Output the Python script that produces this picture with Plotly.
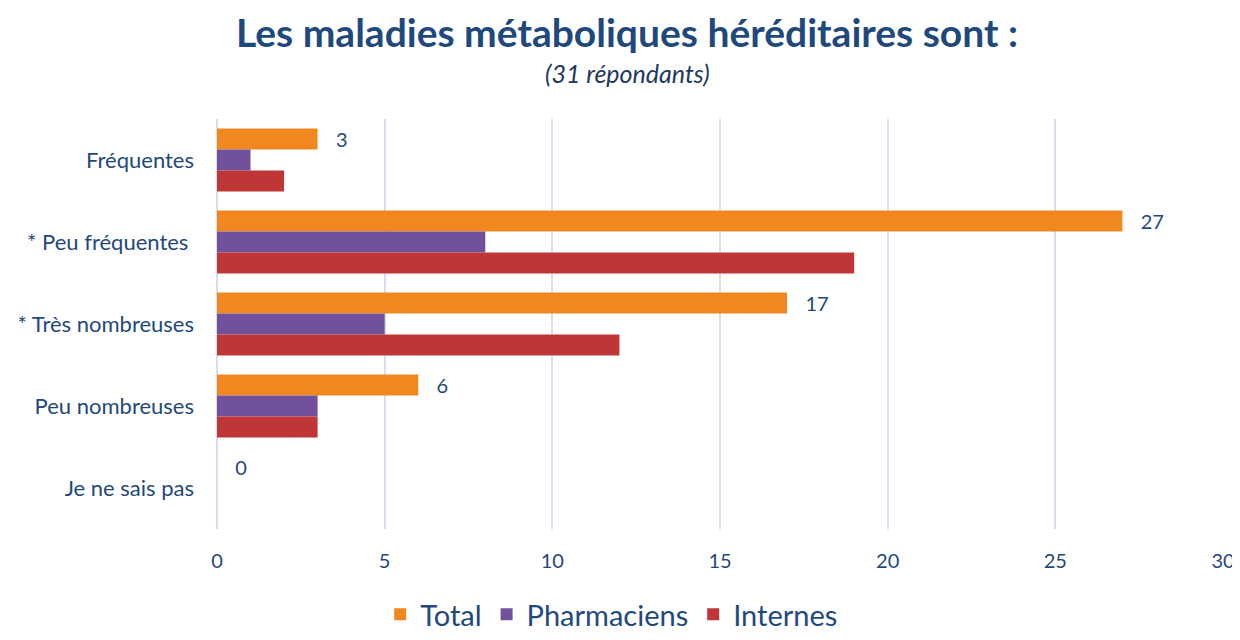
import plotly.graph_objects as go

categories = ["Fréquentes", "* Peu fréquentes ", "* Très nombreuses", "Peu nombreuses", "Je ne sais pas"]
total = [3, 27, 17, 6, 0]
pharmaciens = [1, 8, 5, 3, 0]
internes = [2, 19, 12, 3, 0]
x_ticks = [0, 5, 10, 15, 20, 25, 30]

TXT = "#1F497D"
FONT = "Lato"

fig = go.Figure()
fig.add_trace(go.Bar(
    name="Total", y=categories, x=total, orientation="h",
    marker=dict(color="#F0871F", line=dict(width=0)),
    text=["\u00a0\u00a0\u00a0" + str(v) for v in total],
    textposition="outside", constraintext="none", cliponaxis=False,
    textfont=dict(size=20, color=TXT, family=FONT),
))
fig.add_trace(go.Bar(
    name="Pharmaciens", y=categories, x=pharmaciens, orientation="h",
    marker=dict(color="#71519C", line=dict(width=0)),
))
fig.add_trace(go.Bar(
    name="Internes", y=categories, x=internes, orientation="h",
    marker=dict(color="#BE3636", line=dict(width=0)),
))

fig.update_layout(
    width=1232, height=632,
    margin=dict(l=209, r=17, t=111, b=111),
    paper_bgcolor="white", plot_bgcolor="white",
    barmode="group", bargap=0.23, bargroupgap=0,
    font=dict(family=FONT, color=TXT, size=20),
    showlegend=True,
    legend=dict(orientation="h", xref="container", x=0.49, xanchor="center",
                yref="container", y=-0.035, yanchor="bottom",
                font=dict(size=29, color=TXT, family=FONT),
                itemsizing="constant", traceorder="normal", itemwidth=30),
    annotations=[
        dict(text="<b>Les maladies métaboliques héréditaires sont :</b>",
             xref="paper", yref="paper", x=0.4076, y=1.212, xanchor="center", yanchor="middle",
             showarrow=False, borderpad=0, font=dict(size=39, color=TXT, family=FONT)),
        dict(text="<i>(31 répondants)</i>",
             xref="paper", yref="paper", x=0.4076, y=1.112, xanchor="center", yanchor="middle",
             showarrow=False, font=dict(size=25, color="#1F3864", family=FONT)),
    ],
)
fig.update_xaxes(range=[0, 30], tickvals=x_ticks, showgrid=True,
                 gridcolor="#D5DFEE", gridwidth=1.5, zeroline=True,
                 zerolinecolor="#D5DFEE", zerolinewidth=2, automargin=False,
                 ticklabelstandoff=18, tickfont=dict(size=20, color=TXT), showline=False)
fig.update_yaxes(autorange="reversed", showgrid=False, ticklabelstandoff=22, automargin=False,
                 tickfont=dict(size=22, color=TXT), showline=False)

fig.write_html("out.html")
